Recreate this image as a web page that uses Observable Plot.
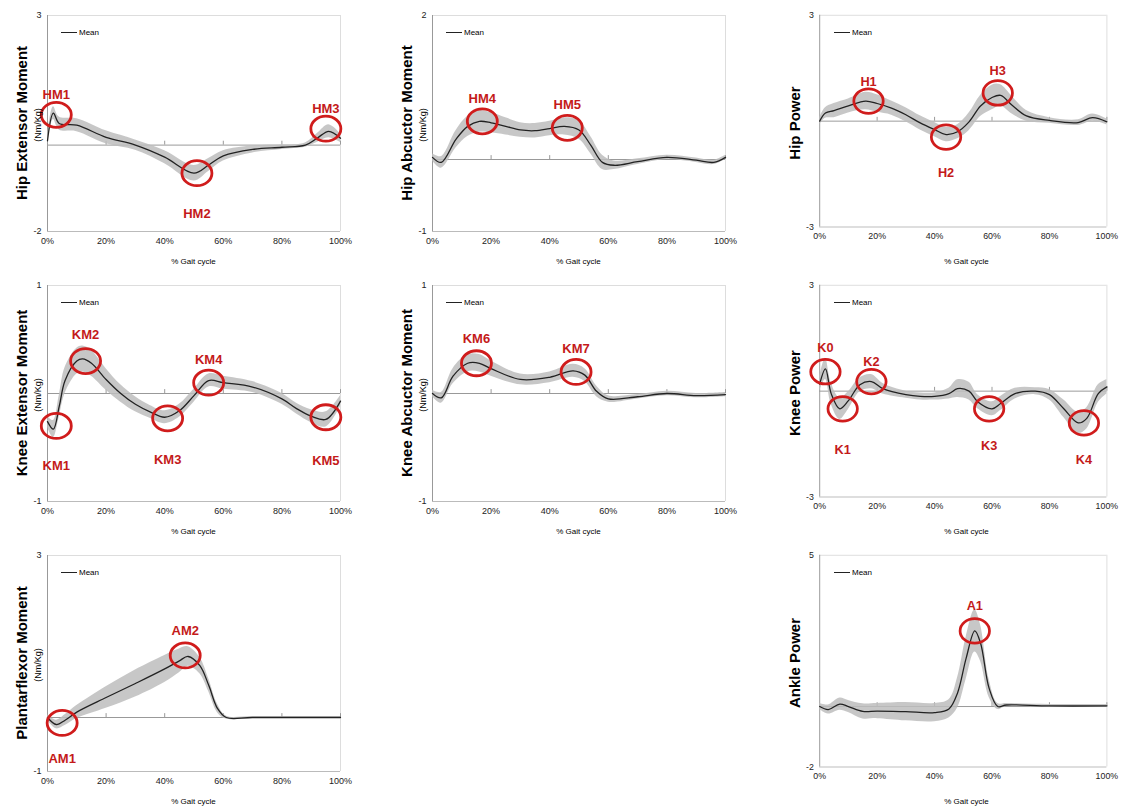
<!DOCTYPE html>
<html><head><meta charset="utf-8">
<script src="https://cdn.jsdelivr.net/npm/d3@7"></script>
<script src="https://cdn.jsdelivr.net/npm/@observablehq/plot@0.6"></script>
<style>
body{margin:0;background:#fff;font-family:"Liberation Sans",Arial,sans-serif;}
#wrap{position:relative;width:1126px;height:809px;}
.p{position:absolute;}
.yl{position:absolute;transform:translate(-50%,-50%) rotate(-90deg);white-space:nowrap;font-weight:bold;font-size:15px;}
.un{position:absolute;transform:translate(-50%,-50%) rotate(-90deg);white-space:nowrap;font-size:9px;}
.xl{position:absolute;transform:translateX(-50%);font-size:8px;white-space:nowrap;}
.lg{position:absolute;font-size:8px;}
.lg span{display:inline-block;width:16px;border-top:1.5px solid #222;vertical-align:middle;margin-right:2px;}
</style></head><body><div id="wrap"></div>
<script>
// % gait cycle sample points and mean / sd per panel
const hipExtX = [0,2,4,10,20,30,40,50,55,60,70,80,88,92,96,100];
const hipExtM = [0.1,0.74,0.5,0.46,0.18,0.0,-0.28,-0.65,-0.46,-0.25,-0.1,-0.05,0,0.16,0.32,0.16];
const hipExtS = [0.1,0.15,0.15,0.15,0.15,0.12,0.15,0.18,0.15,0.12,0.08,0.05,0.05,0.1,0.15,0.1];

const hipAbdX = [0,3,8,12,16,20,25,30,35,40,45,50,54,58,62,70,80,90,96,100];
const hipAbdM = [0.03,-0.04,0.28,0.46,0.53,0.51,0.46,0.41,0.40,0.43,0.46,0.41,0.2,-0.04,-0.08,-0.03,0.03,-0.01,-0.04,0.03];
const hipAbdS = [0.05,0.08,0.12,0.14,0.15,0.14,0.12,0.1,0.1,0.1,0.12,0.13,0.12,0.1,0.06,0.04,0.03,0.03,0.03,0.03];

const hipPowX = [0,2,5,10,16,20,25,30,35,40,44,48,52,56,60,63,67,72,80,90,95,100];
const hipPowM = [0,0.23,0.3,0.43,0.57,0.5,0.37,0.18,-0.05,-0.24,-0.38,-0.3,-0.02,0.43,0.67,0.73,0.45,0.15,0.02,-0.04,0.1,-0.02];
const hipPowS = [0.1,0.15,0.2,0.2,0.25,0.25,0.2,0.2,0.2,0.2,0.2,0.2,0.25,0.3,0.35,0.3,0.25,0.15,0.08,0.08,0.1,0.08];

const kneeExtX = [0,2,4,6,10,12,15,20,25,30,35,40,45,50,55,60,70,80,85,90,95,100];
const kneeExtM = [-0.26,-0.33,-0.12,0.12,0.3,0.32,0.28,0.13,0,-0.1,-0.17,-0.22,-0.16,-0.02,0.12,0.1,0.06,-0.05,-0.14,-0.21,-0.24,-0.07];
const kneeExtS = [0.05,0.08,0.1,0.12,0.12,0.12,0.12,0.1,0.08,0.07,0.06,0.06,0.06,0.06,0.06,0.06,0.05,0.05,0.05,0.06,0.07,0.05];

const kneeAbdX = [0,3,7,12,16,20,30,40,48,52,56,60,70,80,90,100];
const kneeAbdM = [0,-0.04,0.16,0.28,0.28,0.23,0.13,0.15,0.21,0.17,0.02,-0.05,-0.03,0,-0.02,-0.01];
const kneeAbdS = [0.03,0.05,0.07,0.08,0.08,0.07,0.05,0.05,0.06,0.06,0.05,0.03,0.02,0.02,0.02,0.02];

const kneePowX = [0,2,4,7,10,14,18,22,30,35,40,45,48,52,55,60,63,68,75,80,85,90,93,97,100];
const kneePowM = [0.2,0.63,-0.07,-0.5,-0.27,0.18,0.27,0.07,-0.1,-0.15,-0.15,-0.07,0.07,0,-0.3,-0.5,-0.35,-0.07,0,-0.1,-0.5,-0.9,-0.77,-0.07,0.12];
const kneePowS = [0.2,0.3,0.3,0.3,0.25,0.2,0.2,0.15,0.1,0.1,0.1,0.15,0.25,0.25,0.2,0.2,0.2,0.15,0.1,0.15,0.25,0.3,0.3,0.25,0.2];

const ankMomX = [0,3,6,10,20,30,40,45,48,52,55,58,61,70,100];
const ankMomM = [0,-0.13,-0.05,0.1,0.37,0.63,0.9,1.05,1.13,0.96,0.6,0.17,0,0,0];
const ankMomS = [0.05,0.08,0.1,0.12,0.2,0.25,0.25,0.22,0.18,0.15,0.12,0.08,0.03,0.02,0.02];

const ankPowX = [0,3,7,10,15,20,30,40,45,48,51,54,56,59,62,65,80,100];
const ankPowM = [0,-0.1,0.08,0,-0.16,-0.15,-0.17,-0.2,-0.08,0.45,1.6,2.5,2.1,0.6,0,0.05,0.02,0.02];
const ankPowS = [0.1,0.15,0.2,0.2,0.25,0.25,0.3,0.3,0.3,0.5,0.7,0.7,0.6,0.3,0.1,0.05,0.05,0.05];

const xTicks = [0,20,40,60,80,100];

const panels = [
  {x:hipExtX,m:hipExtM,s:hipExtS,dom:[-2,3],title:"Hip Extensor Moment",unit:true,box:[47,15],
   ann:[["HM1",3,0.7,-24],["HM2",51,-0.65,37],["HM3",95,0.38,-24]]},
  {x:hipAbdX,m:hipAbdM,s:hipAbdS,dom:[-1,2],title:"Hip Abcuctor Moment",unit:true,box:[432,15],
   ann:[["HM4",17,0.53,-27],["HM5",46,0.44,-27]]},
  {x:hipPowX,m:hipPowM,s:hipPowS,dom:[-3,3],title:"Hip Power",unit:false,box:[820,15],
   ann:[["H1",17,0.57,-24],["H2",44,-0.45,33],["H3",62,0.8,-26]]},
  {x:kneeExtX,m:kneeExtM,s:kneeExtS,dom:[-1,1],title:"Knee Extensor Moment",unit:true,box:[47,285],
   ann:[["KM1",3,-0.3,36],["KM2",13,0.3,-30],["KM3",41,-0.23,38],["KM4",55,0.1,-27],["KM5",95,-0.22,40]]},
  {x:kneeAbdX,m:kneeAbdM,s:kneeAbdS,dom:[-1,1],title:"Knee Abcuctor Moment",unit:true,box:[432,285],
   ann:[["KM6",15,0.28,-28],["KM7",49,0.2,-27]]},
  {x:kneePowX,m:kneePowM,s:kneePowS,dom:[-3,3],title:"Knee Power",unit:false,box:[820,285],
   ann:[["K0",2,0.55,-28],["K1",8,-0.5,38],["K2",18,0.27,-24],["K3",59,-0.5,34],["K4",92,-0.9,34]]},
  {x:ankMomX,m:ankMomM,s:ankMomS,dom:[-1,3],title:"Plantarflexor Moment",unit:true,box:[47,555],
   ann:[["AM1",5,-0.1,32],["AM2",47,1.15,-29]]},
  {x:ankPowX,m:ankPowM,s:ankPowS,dom:[-2,5],title:"Ankle Power",unit:false,box:[820,555],
   ann:[["A1",54,2.5,-29]]}
];

const W = 293, H = 216, ML = 40, MT = 10, MR = 20, MB = 30;
const wrap = document.getElementById("wrap");

for (const p of panels) {
  const rows = p.x.map((x, i) => ({x, m: p.m[i], lo: p.m[i] - p.s[i], hi: p.m[i] + p.s[i]}));
  const ann = p.ann.map(([label, x, y, dy]) => ({label, x, y, dy}));
  const tickH = (p.dom[1] - p.dom[0]) * 0.018;
  const chart = Plot.plot({
    width: W + ML + MR, height: H + MT + MB,
    marginLeft: ML, marginTop: MT, marginRight: MR, marginBottom: MB,
    style: {fontFamily: "Liberation Sans, Arial, sans-serif", fontSize: "9px", color: "#222", background: "transparent"},
    x: {domain: [0, 100], ticks: xTicks, tickFormat: d => d + "%", label: null, tickSize: 0, tickPadding: 6},
    y: {domain: p.dom, ticks: p.dom, tickFormat: d => d, label: null, tickSize: 0, tickPadding: 6},
    marks: [
      Plot.ruleY([p.dom[1]], {stroke: "#ddd"}),
      Plot.ruleX([100], {stroke: "#ddd"}),
      Plot.ruleY([p.dom[0]], {stroke: "#bbb"}),
      Plot.ruleX([0], {stroke: "#999"}),
      Plot.ruleY([0], {stroke: "#999"}),
      Plot.ruleX(xTicks.slice(1), {y1: 0, y2: tickH, stroke: "#999"}),
      Plot.areaY(rows, {x: "x", y1: "lo", y2: "hi", fill: "#bdbdbd", fillOpacity: 0.85, curve: "catmull-rom"}),
      Plot.line(rows, {x: "x", y: "m", stroke: "#222", strokeWidth: 1.3, curve: "catmull-rom"}),
      Plot.dot(ann, {x: "x", y: "y", r: 13, stroke: "#d01c1c", strokeWidth: 2.8, fill: "none"}),
      Plot.text(ann, {x: "x", y: "y", text: "label", fill: "#c41a1a", fontWeight: "bold", fontSize: 13})
    ]
  });
  // per-label vertical offsets; widen circles into ellipses like the original
  const texts = chart.querySelectorAll('g[aria-label="text"] text');
  texts.forEach((t, i) => t.setAttribute("dy", ann[i].dy + 4));
  chart.querySelectorAll('g[aria-label="dot"] circle').forEach(c => {
    const e = document.createElementNS("http://www.w3.org/2000/svg", "ellipse");
    for (const a of c.attributes) if (a.name !== "r") e.setAttribute(a.name, a.value);
    e.setAttribute("rx", 15); e.setAttribute("ry", 12.5);
    c.replaceWith(e);
  });
  const d = document.createElement("div");
  d.className = "p";
  d.style.left = (p.box[0] - ML) + "px";
  d.style.top = (p.box[1] - MT) + "px";
  d.append(chart);
  wrap.append(d);

  const cy = p.box[1] + H / 2;
  const yl = document.createElement("div");
  yl.className = "yl"; yl.textContent = p.title;
  yl.style.left = (p.box[0] - 26) + "px"; yl.style.top = cy + "px";
  wrap.append(yl);
  if (p.unit) {
    const un = document.createElement("div");
    un.className = "un"; un.textContent = "(Nm/Kg)";
    un.style.left = (p.box[0] - 9) + "px"; un.style.top = (cy + 2) + "px";
    wrap.append(un);
  }
  const xl = document.createElement("div");
  xl.className = "xl"; xl.textContent = "% Gait cycle";
  xl.style.left = (p.box[0] + W / 2) + "px"; xl.style.top = (p.box[1] + H + 26) + "px";
  wrap.append(xl);
  const lg = document.createElement("div");
  lg.className = "lg"; lg.innerHTML = "<span></span>Mean";
  lg.style.left = (p.box[0] + 14) + "px"; lg.style.top = (p.box[1] + 13) + "px";
  wrap.append(lg);
}
</script></body></html>
